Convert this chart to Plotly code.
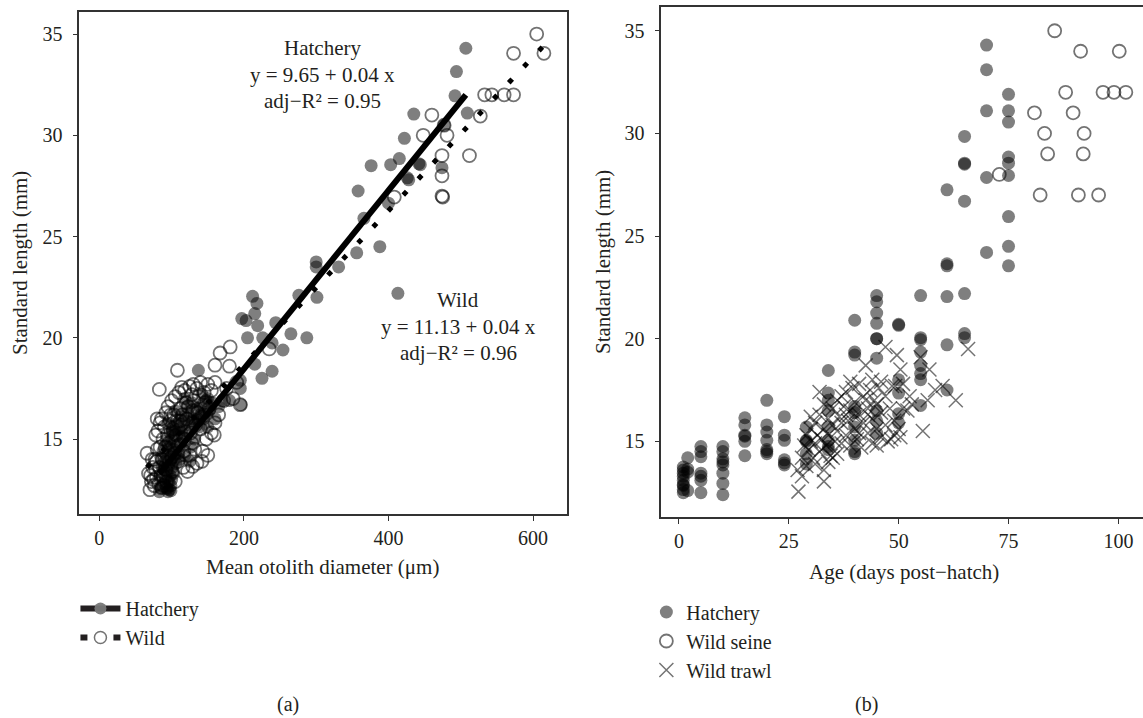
import plotly.graph_objects as go

# ---------------- Panel (a): otolith diameter vs standard length ----------------
hatch_a_x = [507, 494, 492, 509, 435, 422, 415, 403, 376, 444, 442, 426, 428, 474, 477, 358, 400, 366, 388, 356,
             300, 300, 331, 413, 212, 218, 215, 276, 301, 197, 203, 244, 219, 265, 287, 205, 226, 239, 254, 215,
             239, 225, 137, 195, 195, 165, 196, 180, 170, 150, 140, 160,
             95, 97, 93, 99, 90, 96, 100, 92, 98, 103, 94, 89, 101, 96, 106, 91, 99, 104, 95, 110,
             88, 102, 97, 107, 112, 93, 100, 115, 105, 98, 120, 110, 102, 125, 108, 117, 130, 113, 122, 135,
             105, 128, 118, 142, 138, 132, 126, 118, 84, 86, 92, 101, 111, 114, 121, 144, 150, 148, 85, 95,
             125, 87, 99, 94, 83, 140, 146, 152, 136, 130, 156]
hatch_a_y = [34.3, 33.15, 31.95, 31.1, 31.05, 29.85, 28.85, 28.55, 28.5, 28.55, 28.6, 27.9, 27.8, 28.4, 30.5, 27.25, 26.65, 25.9, 24.5, 24.2,
             23.75, 23.5, 23.5, 22.2, 22.05, 21.7, 21.2, 22.1, 22.0, 20.95, 20.85, 20.75, 20.6, 20.2, 20.0, 20.0, 20.0, 19.75, 19.4, 18.7,
             18.35, 18.0, 18.4, 17.9, 17.5, 16.6, 16.7, 16.9, 16.9, 17.0, 16.2, 16.0,
             12.4, 12.5, 12.6, 12.7, 12.8, 12.9, 13.0, 13.1, 13.2, 13.3, 13.4, 13.5, 13.6, 13.7, 13.8, 13.9, 14.0, 14.1, 14.2, 14.3,
             14.4, 14.5, 14.6, 14.7, 14.8, 14.9, 15.0, 15.1, 15.2, 15.3, 15.4, 15.5, 15.6, 15.7, 15.8, 15.9, 16.0, 16.1, 16.3, 16.5,
             16.4, 16.8, 17.0, 17.2, 15.6, 15.0, 14.6, 14.2, 13.0, 12.6, 14.7, 15.4, 14.0, 15.3, 16.6, 16.0, 15.6, 16.9, 14.1, 15.8,
             13.9, 13.6, 12.45, 12.55, 12.4, 16.6, 16.3, 16.4, 16.0, 15.9, 16.8]

wild_a_x = [605, 573, 615, 533, 543, 560, 573, 527, 460, 448, 481, 512, 474, 474, 474, 475, 408, 477,
            70, 72, 68, 66, 78, 103, 83, 108, 114, 160, 167, 181, 180, 235, 195, 159, 142, 129,
            75, 78, 73, 80, 76, 82, 85, 79, 84, 88, 81, 90, 86, 92, 95, 100, 105, 110, 118, 125,
            130, 135, 140, 145, 150, 155, 160, 128, 120, 112, 98, 94, 91, 87, 83, 79, 102, 108, 115, 123,
            131, 138, 146, 152, 142, 133, 126, 118, 110, 104, 97, 92, 88, 96, 100, 106, 113, 121, 129, 136,
            140, 148, 155, 132, 125, 117, 109, 101, 93, 86, 122, 135, 128, 116, 105, 89, 112, 99, 143, 150,
            160, 165, 172, 185, 176, 190, 77, 74, 71, 80, 84]
wild_a_y = [35.0, 34.05, 34.05, 32.0, 32.0, 32.0, 32.0, 30.95, 31.0, 30.0, 30.0, 29.0, 29.0, 28.0, 27.0, 26.95, 26.95, 30.5,
            12.5, 12.9, 13.3, 14.3, 15.2, 16.2, 17.45, 18.4, 17.55, 18.65, 19.25, 19.55, 18.6, 19.45, 16.7, 15.2, 13.9, 13.65,
            13.0, 13.5, 14.0, 14.5, 12.7, 12.8, 13.2, 13.9, 14.6, 15.0, 15.4, 15.6, 16.0, 16.3, 16.6, 16.9, 17.1, 17.3, 17.4, 17.6,
            17.7, 17.5, 17.8, 17.3, 17.7, 17.4, 17.8, 17.2, 16.8, 16.5, 15.9, 15.2, 14.6, 14.0, 13.6, 13.1, 15.5, 15.9, 16.2, 16.6,
            16.9, 17.1, 16.8, 16.5, 16.1, 15.7, 15.3, 15.0, 14.7, 14.3, 13.9, 13.5, 13.2, 14.8, 14.1, 15.2, 15.7, 16.0, 16.4, 16.3,
            15.5, 15.0, 15.3, 14.5, 14.2, 14.4, 13.9, 13.4, 12.9, 12.6, 13.4, 13.8, 14.8, 13.6, 12.9, 12.7, 15.9, 16.2, 14.4, 14.2,
            15.8, 16.2, 16.9, 17.0, 17.5, 17.8, 14.0, 13.6, 13.2, 16.0, 15.8]

# fitted lines (end points)
hatch_fit_x = [83, 507]
hatch_fit_y = [13.3, 32.0]
wild_fit_x = [66, 614]
wild_fit_y = [13.6, 34.4]

# ---------------- Panel (b): age vs standard length ----------------
hatch_b_x = [1, 1, 1, 1, 1, 1, 1, 2, 2, 2, 1, 2, 1,
             5, 5, 5, 5, 5, 5, 5,
             10, 10, 10, 10, 10, 10, 10, 10,
             15, 15, 15, 15, 15, 15,
             20, 20, 20, 20, 20, 20, 20,
             24, 24, 24, 24, 24, 24,
             29, 29, 29, 29, 29,
             34, 34, 34, 34, 34, 34, 34, 34,
             40, 40, 40, 40, 40, 40, 40, 40, 40,
             45, 45, 45, 45, 45, 45, 45, 45, 45, 45,
             50, 50, 50, 50, 50, 50,
             55, 55, 55, 55, 55, 55, 55, 55,
             61, 61, 61, 61, 61, 61,
             65, 65, 65, 65, 65, 65, 65,
             70, 70, 70, 70, 70,
             75, 75, 75, 75, 75, 75, 75, 75, 75]
hatch_b_y = [12.5, 12.65, 12.85, 13.1, 13.45, 13.6, 13.75, 13.5, 13.65, 14.2, 12.9, 12.6, 13.3,
             12.5, 13.1, 13.45, 14.25, 14.5, 14.75, 13.3,
             12.4, 12.95, 13.45, 13.85, 14.15, 14.5, 14.75, 14.0,
             14.3, 15.0, 15.25, 15.8, 16.15, 15.3,
             14.4, 14.5, 15.05, 15.45, 15.8, 17.0, 14.6,
             13.85, 14.1, 15.05, 15.3, 16.2, 13.95,
             13.9, 14.4, 15.05, 15.7, 15.0,
             14.75, 15.05, 15.7, 16.5, 17.0, 17.35, 18.45, 14.6,
             14.4, 15.05, 15.7, 16.7, 16.4, 19.2, 19.35, 20.9, 14.5,
             15.4, 16.0, 16.5, 19.05, 20.0, 20.0, 20.75, 21.25, 21.8, 22.1,
             15.9, 16.35, 17.35, 18.0, 20.65, 20.7,
             16.75, 18.0, 18.3, 18.7, 19.35, 19.95, 20.05, 22.1,
             17.5, 19.7, 22.05, 23.55, 23.65, 27.25,
             20.05, 20.25, 22.2, 26.7, 28.5, 28.55, 29.85,
             24.2, 27.85, 31.1, 33.1, 34.3,
             23.55, 24.5, 25.95, 27.95, 28.55, 28.85, 30.55, 31.1, 31.9]

seine_b_x = [85.5, 91.4, 100.2, 88, 96.5, 99, 101.7, 80.9, 89.7, 83.2, 92.2, 83.9, 92, 72.9, 82.2, 90.9, 95.5]
seine_b_y = [35.0, 34.0, 34.0, 32.0, 32.0, 32.0, 32.0, 31.0, 31.0, 30.0, 30.0, 29.0, 29.0, 28.0, 27.0, 27.0, 27.0]

trawl_b_x = [27.2, 27, 28, 28.5, 29, 29.5, 30, 30, 30.5, 31, 31, 31.5, 32, 32, 32.5, 33, 33, 33, 33.5, 34,
             34, 34.5, 35, 35, 35.5, 36, 36, 36.5, 37, 37, 37.5, 38, 38, 38.5, 39, 39, 39.5, 40, 40, 40.5,
             41, 41, 41.5, 42, 42, 42.5, 43, 43, 43.5, 44, 44, 44.5, 45, 45, 45.5, 46, 46, 47, 47, 47.5,
             48, 48.3, 48.5, 49, 49.2, 49.6, 50, 50.4, 50.4, 51, 52, 52.5, 55, 55.5, 56.6, 57, 58.3, 60, 63, 65.8,
             42.5, 38, 36, 34, 31, 29, 40, 44, 46, 37, 39, 33, 35, 41, 43, 45, 47, 49, 51, 53,
             30, 32, 28]
trawl_b_y = [12.55, 13.6, 14.2, 14.8, 15.3, 14.6, 15.0, 15.6, 14.2, 14.9, 15.9, 15.3, 14.5, 16.3, 15.1, 13.05, 13.6, 15.6, 14.8, 16.1,
             15.3, 14.3, 15.8, 16.6, 15.0, 15.5, 17.0, 16.2, 14.9, 15.9, 16.7, 15.3, 17.4, 16.0, 14.8, 16.5, 17.6, 15.6, 16.9, 15.1,
             16.3, 17.8, 14.7, 15.9, 17.2, 18.7, 16.6, 15.4, 17.5, 16.1, 14.9, 17.0, 15.6, 16.8, 17.6, 15.2, 16.4, 17.2, 19.6, 15.0,
             16.6, 15.1, 17.7, 16.0, 17.7, 19.2, 15.6, 15.2, 18.5, 16.6, 16.5, 17.2, 19.1, 15.5, 17.0, 18.5, 17.5, 17.7, 17.0, 19.5,
             17.0, 16.3, 14.4, 14.0, 13.9, 13.8, 16.2, 18.0, 17.9, 17.2, 17.9, 16.8, 14.2, 15.4, 16.3, 14.8, 15.8, 15.3, 17.8, 16.8,
             16.2, 17.4, 13.3]

ticks_a = [0, 200, 400, 600]
ticks_b = [0, 25, 50, 75, 100]
ticks_y = [15, 20, 25, 30, 35]

FONT = "Liberation Serif"
TXT = "#231f20"
FILL = "rgba(0,0,0,0.5)"
RING = "rgba(0,0,0,0.55)"
TS = 21   # text size
KS = 20   # tick size
LS = 20   # legend size

fig = go.Figure()

# panel a points
fig.add_trace(go.Scatter(x=wild_a_x, y=wild_a_y, mode="markers", showlegend=False,
                         marker=dict(symbol="circle-open", size=13, color=RING, line=dict(width=1.8)),
                         xaxis="x", yaxis="y"))
fig.add_trace(go.Scatter(x=hatch_a_x, y=hatch_a_y, mode="markers", showlegend=False,
                         marker=dict(symbol="circle", size=13, color=FILL, line=dict(width=0)),
                         xaxis="x", yaxis="y"))
# fit lines
fig.add_trace(go.Scatter(x=hatch_fit_x, y=hatch_fit_y, mode="lines", showlegend=False,
                         line=dict(color="black", width=6), xaxis="x", yaxis="y"))
fig.add_trace(go.Scatter(x=wild_fit_x, y=wild_fit_y, mode="lines", showlegend=False,
                         line=dict(color="black", width=5, dash="5px,17px"), xaxis="x", yaxis="y"))
# legend entries for panel a
fig.add_trace(go.Scatter(x=[None], y=[None], mode="lines+markers", name="Hatchery", legend="legend",
                         line=dict(color="#231f20", width=6),
                         marker=dict(symbol="circle", size=12, color="rgba(120,120,120,0.95)"),
                         xaxis="x", yaxis="y"))
fig.add_trace(go.Scatter(x=[None], y=[None], mode="lines+markers", name="Wild", legend="legend",
                         line=dict(color="#231f20", width=6, dash="7px,26px"),
                         marker=dict(symbol="circle", size=12, color="white",
                                     line=dict(color="rgba(0,0,0,0.55)", width=1.5)),
                         xaxis="x", yaxis="y"))

# panel b points
fig.add_trace(go.Scatter(x=hatch_b_x, y=hatch_b_y, mode="markers", name="Hatchery", legend="legend2",
                         marker=dict(symbol="circle", size=13, color=FILL, line=dict(width=0)),
                         xaxis="x2", yaxis="y2"))
fig.add_trace(go.Scatter(x=seine_b_x, y=seine_b_y, mode="markers", name="Wild seine", legend="legend2",
                         marker=dict(symbol="circle-open", size=13, color=RING, line=dict(width=1.8)),
                         xaxis="x2", yaxis="y2"))
fig.add_trace(go.Scatter(x=trawl_b_x, y=trawl_b_y, mode="markers", name="Wild trawl", legend="legend2",
                         marker=dict(symbol="x-thin-open", size=14, color=RING, line=dict(width=1.5)),
                         xaxis="x2", yaxis="y2"))

axis_common = dict(showgrid=False, zeroline=False, showline=True, linecolor="#333333", linewidth=1.5,
                   ticks="outside", ticklen=5, tickwidth=1.3, tickcolor="#333333",
                   tickfont=dict(family=FONT, size=KS, color=TXT))

fig.update_layout(
    width=1143, height=718, margin=dict(l=0, r=0, t=0, b=0),
    paper_bgcolor="white", plot_bgcolor="white",
    font=dict(family=FONT, size=TS, color=TXT),
    xaxis=dict(domain=[0.0694, 0.4961], range=[-27.7, 647], tickvals=ticks_a, anchor="y", mirror=True,
               ticklabelstandoff=0, **axis_common),
    yaxis=dict(domain=[0.2841, 0.9833], range=[11.30, 36.09], tickvals=ticks_y, anchor="x", mirror=True,
               ticklabelstandoff=6, **axis_common),
    xaxis2=dict(domain=[0.5786, 1.0], range=[-4.0, 105.6], tickvals=ticks_b, anchor="y2", mirror=True,
                ticklabelstandoff=0, **axis_common),
    yaxis2=dict(domain=[0.2795, 0.9898], range=[11.30, 36.14], tickvals=ticks_y, anchor="x2", mirror=False,
                ticklabelstandoff=6, **axis_common),
    legend=dict(x=0.066, y=1 - 623 / 718, xanchor="left", yanchor="middle", bgcolor="rgba(0,0,0,0)",
                font=dict(family=FONT, size=LS, color=TXT), tracegroupgap=0, itemwidth=40),
    legend2=dict(x=0.5655, y=1 - 641 / 718, xanchor="left", yanchor="middle", bgcolor="rgba(0,0,0,0)",
                 font=dict(family=FONT, size=LS, color=TXT), tracegroupgap=0),
)

def ann(text, x, y, size=TS, **kw):
    fig.add_annotation(text=text, x=x / 1143, y=1 - y / 718, xref="paper", yref="paper",
                       xanchor="center", yanchor="middle",
                       showarrow=False, font=dict(family=FONT, size=size, color=TXT), **kw)

# regression annotations (panel a)
ann("Hatchery", 322, 48)
ann("y = 9.65 + 0.04 x", 322, 75)
ann("adj\u2212R\u00b2 = 0.95", 322, 101)
ann("Wild", 458, 300)
ann("y = 11.13 + 0.04 x", 458, 327)
ann("adj\u2212R\u00b2 = 0.96", 458, 353)

# axis titles
ann("Mean otolith diameter (\u03bcm)", 323, 567)
ann("Age (days post\u2212hatch)", 904, 572)
ann("Standard length (mm)", 20, 263, textangle=-90)
ann("Standard length (mm)", 603, 262, textangle=-90)

# panel labels
ann("(a)", 288, 704, size=20)
ann("(b)", 867, 704, size=20)

fig.write_html("out.html", config={"displayModeBar": False},
               post_script="document.body.style.margin='0';"
                           "document.documentElement.style.overflow='hidden';")
